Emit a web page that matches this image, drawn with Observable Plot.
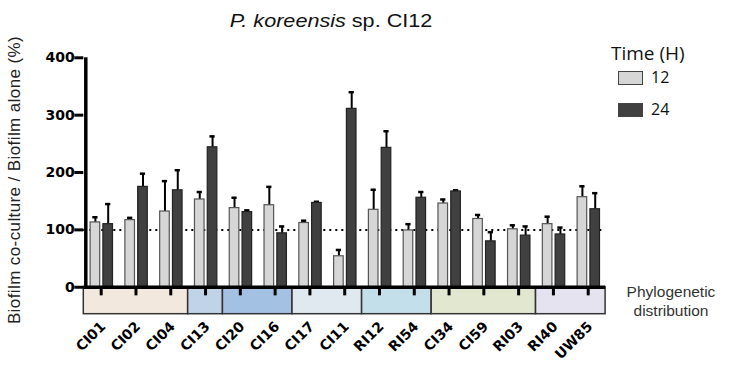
<!DOCTYPE html>
<html>
<head>
<meta charset="utf-8">
<script src="https://cdn.jsdelivr.net/npm/d3@7"></script>
<script src="https://cdn.jsdelivr.net/npm/@observablehq/plot@0.6"></script>
<style>
  html, body { margin: 0; padding: 0; background: #fff; }
  #wrap { position: relative; width: 729px; height: 367px; font-family: "Liberation Sans", Arial, sans-serif; }
  #title { position: absolute; left: 330.5px; top: 12px; transform: translateX(-50%) scaleX(1.2); font-size: 18px; line-height: 18px; color: #111; white-space: nowrap; }
  #ylabel { position: absolute; left: 14px; top: 180px; transform: translate(-50%, -50%) rotate(-90deg); font-size: 17px; line-height: 17px; letter-spacing: 0.4px; color: #222; white-space: nowrap; }
  .lg { position: absolute; font-family: "Open Sans", sans-serif; color: #111; white-space: nowrap; }
  .sw { position: absolute; width: 23px; height: 12px; border: 1px solid #444; }
  #phylo { position: absolute; left: 671px; top: 282px; transform: translateX(-50%); font-size: 15.5px; line-height: 19px; color: #333; text-align: center; white-space: nowrap; }
</style>
</head>
<body>
<div id="wrap">
  <div id="chart"></div>
  <div id="title"><i>P. koreensis</i> sp. CI12</div>
  <div id="ylabel">Biofilm co-culture / Biofilm alone (%)</div>
  <div class="lg" style="left:611px; top:44px; font-size:19px; line-height:19px;">Time (H)</div>
  <div class="sw" style="left:618px; top:71px; background:#d6d6d6"></div>
  <div class="lg" style="left:651px; top:69px; font-size:16px; line-height:16px;">12</div>
  <div class="sw" style="left:618px; top:103px; background:#404040"></div>
  <div class="lg" style="left:651px; top:101px; font-size:16px; line-height:16px;">24</div>
  <div id="phylo">Phylogenetic<br>distribution</div>
</div>
<script>
const categories = ["CI01","CI02","CI04","CI13","CI20","CI16","CI17","CI11","RI12","RI54","CI34","CI59","RI03","RI40","UW85"];
const mean12 = [113,117,132,153,138,143,112,54,135,99,146,119,101,110,157];
const err12  = [9,4,53,13,18,32,4,11,35,11,7,7,7,13,19];
const mean24 = [110,175,169,244,131,94,147,311,243,156,167,80,90,92,136];
const err24  = [35,23,35,19,3,12,2,29,29,10,2,16,16,12,28];
const yTicks = [0,100,200,300,400];
const groupStart = [0,3,4,6,8,10,13];
const groupEnd   = [2,3,5,7,9,12,14];
const groupColors = ["#f2e8de","#c0d3e7","#a3c1e3","#e1e9f0","#c3dfe9","#e2e7d0","#e4e3ef"];
const colors = {"12": "#d6d6d6", "24": "#404040"};

const rows = [];
categories.forEach((c, i) => {
  rows.push({i, cat: c, time: "12", v: mean12[i], e: err12[i]});
  rows.push({i, cat: c, time: "24", v: mean24[i], e: err24[i]});
});
const r12 = rows.filter(d => d.time === "12");
const r24 = rows.filter(d => d.time === "24");
const groups = groupStart.map((s, k) => ({s, e: groupEnd[k], color: groupColors[k]}));
const catIdx = categories.map((c, i) => i);

const boxBottom = -47;
const W = 729, H = 367;
const mL = 83.3, mR = 123.9, mT = 57.3, mB = 53.3;
const tickFont = "DejaVu Sans, sans-serif";

const plot = Plot.plot({
  width: W, height: H,
  marginLeft: mL, marginRight: mR, marginTop: mT, marginBottom: mB,
  style: {fontFamily: "Liberation Sans, Arial, sans-serif", background: "#fff", color: "#000"},
  x: {domain: [-0.5, categories.length - 0.5], axis: null},
  y: {domain: [boxBottom, 400]},
  marks: [
    Plot.rect(groups, {x1: d => d.s - 0.5, x2: d => d.e + 0.5, y1: 0, y2: boxBottom, fill: d => d.color, stroke: "#333", strokeWidth: 1.5}),
    Plot.ruleY([100], {stroke: "#000", strokeWidth: 2, strokeDasharray: "2,4"}),
    Plot.ruleX(r12, {x: "i", y1: "v", y2: d => d.v + d.e, dx: -5.8, stroke: "#000", strokeWidth: 2}),
    Plot.ruleY(r12, {x1: d => d.i - 0.075, x2: d => d.i + 0.075, y: d => d.v + d.e, dx: -5.8, stroke: "#000", strokeWidth: 2.5}),
    Plot.ruleX(r24, {x: "i", y1: "v", y2: d => d.v + d.e, dx: 7, stroke: "#000", strokeWidth: 2}),
    Plot.ruleY(r24, {x1: d => d.i - 0.075, x2: d => d.i + 0.075, y: d => d.v + d.e, dx: 7, stroke: "#000", strokeWidth: 2.5}),
    Plot.rectY(r12, {x1: d => d.i - 0.5, x2: d => d.i + 0.5, y1: 0, y2: "v", insetLeft: 6.8, insetRight: 18.4, fill: colors["12"], stroke: "#555", strokeWidth: 1.2}),
    Plot.rectY(r24, {x1: d => d.i - 0.5, x2: d => d.i + 0.5, y1: 0, y2: "v", insetLeft: 19.6, insetRight: 5.6, fill: colors["24"], stroke: "#222", strokeWidth: 1.2}),
    Plot.ruleX(catIdx, {x: d => d, y1: 0, y2: -15, stroke: "#000", strokeWidth: 3}),
    Plot.ruleY([0], {stroke: "#000", strokeWidth: 3.5}),
    Plot.ruleX([-0.5], {y1: 0, y2: 400, dx: 2, stroke: "#000", strokeWidth: 3.5}),
    Plot.axisY({ticks: yTicks, tickSize: 9, tickPadding: 0, strokeWidth: 3, fontSize: 14, fontWeight: "bold", fontFamily: tickFont, label: null}),
    Plot.text(catIdx, {x: d => d, y: boxBottom, text: d => categories[d], rotate: -45, textAnchor: "end", lineAnchor: "middle",
      dx: 2, dy: 10, fontSize: 14, fontWeight: "bold", fontFamily: tickFont, fill: "#000"})
  ]
});
document.getElementById("chart").appendChild(plot);
</script>
</body>
</html>
